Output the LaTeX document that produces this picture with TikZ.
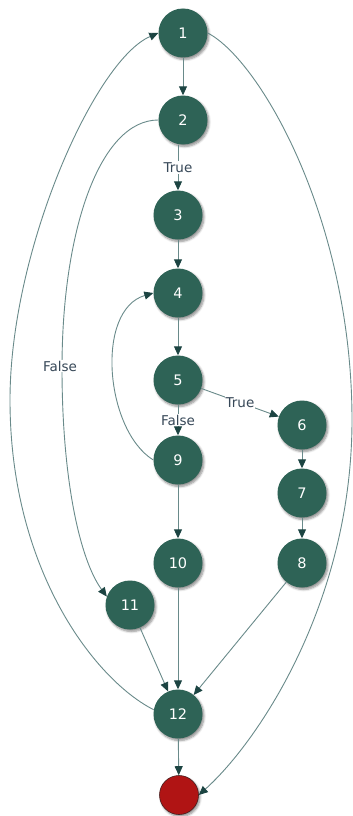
\documentclass[tikz,border=0pt]{standalone}
\usepackage{fontspec}
\setmainfont{DejaVu Sans}
\usetikzlibrary{arrows.meta,shadows.blur}
\definecolor{nodegreen}{RGB}{46,99,86}
\definecolor{edgegray}{RGB}{105,138,138}
\definecolor{tipdark}{RGB}{28,68,66}
\definecolor{labelink}{RGB}{55,72,88}
\definecolor{endred}{RGB}{176,20,20}
\definecolor{endrim}{RGB}{70,30,30}
\begin{document}
\begin{tikzpicture}[x=1pt,y=-1pt,
  vertex/.style={circle, fill=nodegreen, minimum size=49pt, inner sep=0pt,
    text=white, font=\fontsize{14.5}{16}\selectfont,
    blur shadow={shadow xshift=1.5pt, shadow yshift=-2pt, shadow blur steps=6, shadow opacity=45}},
  terminal/.style={circle, fill=endred, draw=endrim, line width=0.6pt, minimum size=39pt, inner sep=0pt,
    blur shadow={shadow xshift=1.5pt, shadow yshift=-2pt, shadow blur steps=6, shadow opacity=45}},
  flow/.style={draw=edgegray, line width=0.9pt, -{Triangle[length=9pt,width=8pt,color=tipdark]}},
  cond/.style={fill=white, text=labelink, font=\fontsize{13.5}{15}\selectfont, inner sep=1pt}]
\useasboundingbox (0,0) rectangle (353,816);

% nodes of the control flow graph
\node[vertex] (n1)  at (183,33)  {1};
\node[vertex] (n2)  at (183,120) {2};
\node[vertex] (n3)  at (178,215) {3};
\node[vertex] (n4)  at (178,293) {4};
\node[vertex] (n5)  at (178,380) {5};
\node[vertex] (n6)  at (302,425) {6};
\node[vertex] (n7)  at (302,493) {7};
\node[vertex] (n8)  at (302,563) {8};
\node[vertex] (n9)  at (178,460) {9};
\node[vertex] (n10) at (178,563) {10};
\node[vertex] (n11) at (130,605) {11};
\node[vertex] (n12) at (178,714) {12};
\node[terminal] (stop) at (179,795) {};

% straight edges
\draw[flow] (n1) -- (n2);
\draw[flow] (n2.south -| n3.south) -- node[cond] {True} (n3);
\draw[flow] (n3) -- (n4);
\draw[flow] (n4) -- (n5);
\draw[flow] (n5) -- node[cond] {True} (n6);
\draw[flow] (n5) -- node[cond] {False} (n9);
\draw[flow] (n6) -- (n7);
\draw[flow] (n7) -- (n8);
\draw[flow] (n9) -- (n10);
\draw[flow] (n10) -- (n12);
\draw[flow] (n11) -- (n12);
\draw[flow] (n8) -- (n12);
\draw[flow] (n12) -- (stop);

% loop back from 9 to 4
\draw[flow] (n9.west) .. controls (105,430) and (95,310) .. (n4.west);

% false branch from 2 to 11
\coordinate (fmid) at (62,368);
\draw[flow] (n2.west) .. controls (100,120) and (62,230) .. (fmid)
  .. controls (62,480) and (80,560) .. (n11.160);
\node[cond] at (60,366) {False};

% back edge from 12 to 1
\coordinate (bmid) at (10,400);
\draw[flow] (n12.170) .. controls (95,680) and (10,570) .. (bmid)
  .. controls (10,250) and (95,60) .. (n1.west);

% exit edge from 1 to the end node
\coordinate (emid) at (352,420);
\draw[flow] (n1.east) .. controls (260,60) and (352,220) .. (emid)
  .. controls (352,600) and (260,740) .. (stop.east);
\end{tikzpicture}
\end{document}
